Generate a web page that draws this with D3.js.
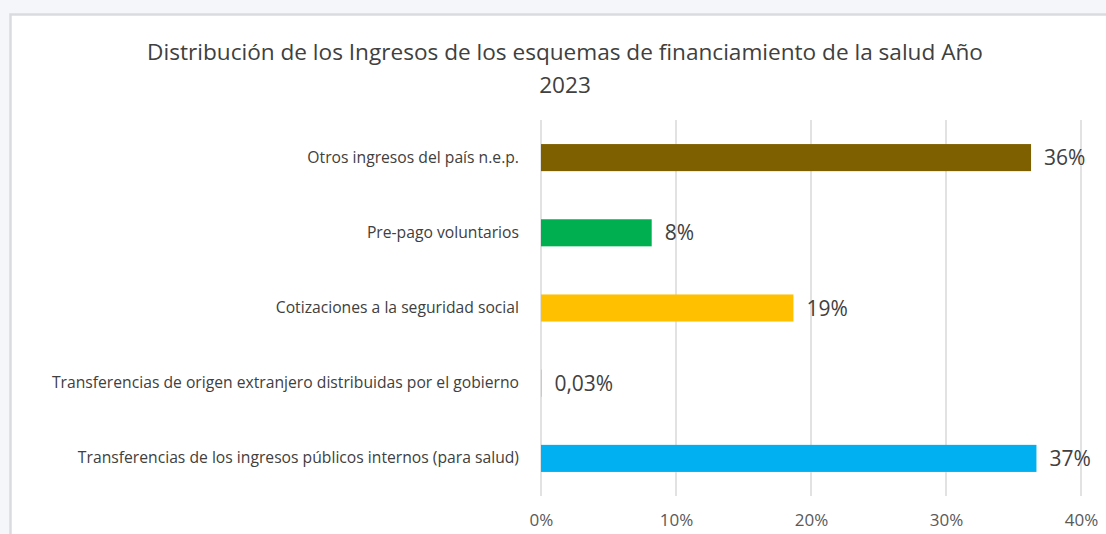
<!DOCTYPE html>
<html>
<head>
<meta charset="utf-8">
<script src="https://cdn.jsdelivr.net/npm/d3@7"></script>
<style>
  body { margin: 0; background: #f4f6f9; }
  svg { display: block; }
  text { font-family: "Open Sans", "Noto Sans", sans-serif; }
</style>
</head>
<body>
<svg id="chart" width="1106" height="534"></svg>
<script>
// categories top to bottom, as in the picture
var categories = [
  "Otros ingresos del país n.e.p.",
  "Pre-pago voluntarios",
  "Cotizaciones a la seguridad social",
  "Transferencias de origen extranjero distribuidas por el gobierno",
  "Transferencias de los ingresos públicos internos (para salud)"
];
var shares = [0.363, 0.082, 0.187, 0.0003, 0.367];
var valueLabels = ["36%", "8%", "19%", "0,03%", "37%"];
var barColours = ["#7f6000", "#00b050", "#ffc000", "#a5a5a5", "#00b0f0"];
var tickValues = [0, 0.1, 0.2, 0.3, 0.4];
var titleLines = ["Distribución de los Ingresos de los esquemas de financiamiento de la salud Año", "2023"];

var svg = d3.select("#chart");

// card behind the chart
svg.append("rect")
   .attr("x", 10.5).attr("y", 14.5)
   .attr("width", 1200).attr("height", 600)
   .attr("fill", "#ffffff")
   .attr("stroke", "#d9dbde")
   .attr("stroke-width", 2.5);

var x = d3.scaleLinear().domain([0, 0.4]).range([541, 1081]);
var y = d3.scaleBand().domain(categories).range([120, 496])
          .paddingInner(0.64).paddingOuter(0.32);

// vertical gridlines
svg.append("g").selectAll("line")
   .data(tickValues)
   .enter()
   .append("line")
   .attr("x1", function(d) { return x(d); })
   .attr("x2", function(d) { return x(d); })
   .attr("y1", 120).attr("y2", 496)
   .attr("stroke", "#d9d9d9")
   .attr("stroke-width", 1.5);

// x axis labels
var xAxis = d3.axisBottom(x)
              .tickValues(tickValues)
              .tickFormat(d3.format(".0%"))
              .tickSize(0)
              .tickPadding(0);
var gx = svg.append("g").attr("transform", "translate(0,512)").call(xAxis);
gx.select(".domain").remove();
gx.selectAll("text")
  .attr("dy", "0.85em")
  .style("font-family", "\"Open Sans\", sans-serif")
  .style("font-size", "17px")
  .attr("fill", "#595959");

// category labels
var yAxis = d3.axisLeft(y).tickSize(0).tickPadding(0);
var gy = svg.append("g").attr("transform", "translate(519,0)").call(yAxis);
gy.select(".domain").remove();
gy.selectAll("text")
  .style("font-family", "\"Open Sans\", sans-serif")
  .style("font-size", "15.7px")
  .attr("fill", "#404040");

// bars
svg.append("g").selectAll("rect")
   .data(shares)
   .enter()
   .append("rect")
   .attr("x", x(0))
   .attr("y", function(d, i) { return y(categories[i]); })
   .attr("width", function(d) { return x(d) - x(0); })
   .attr("height", y.bandwidth())
   .attr("fill", function(d, i) { return barColours[i]; });

// value labels
svg.append("g").selectAll("text")
   .data(shares)
   .enter()
   .append("text")
   .attr("x", function(d) { return x(d) + 13; })
   .attr("y", function(d, i) { return y(categories[i]) + y.bandwidth() / 2; })
   .attr("dy", "0.36em")
   .style("font-size", "21px")
   .attr("fill", "#404040")
   .text(function(d, i) { return valueLabels[i]; });

// title
svg.append("g").selectAll("text")
   .data(titleLines)
   .enter()
   .append("text")
   .attr("x", 565)
   .attr("y", function(d, i) { return 60 + i * 33; })
   .attr("text-anchor", "middle")
   .style("font-size", "22.6px")
   .attr("fill", "#404040")
   .text(function(d) { return d; });
</script>
</body>
</html>
